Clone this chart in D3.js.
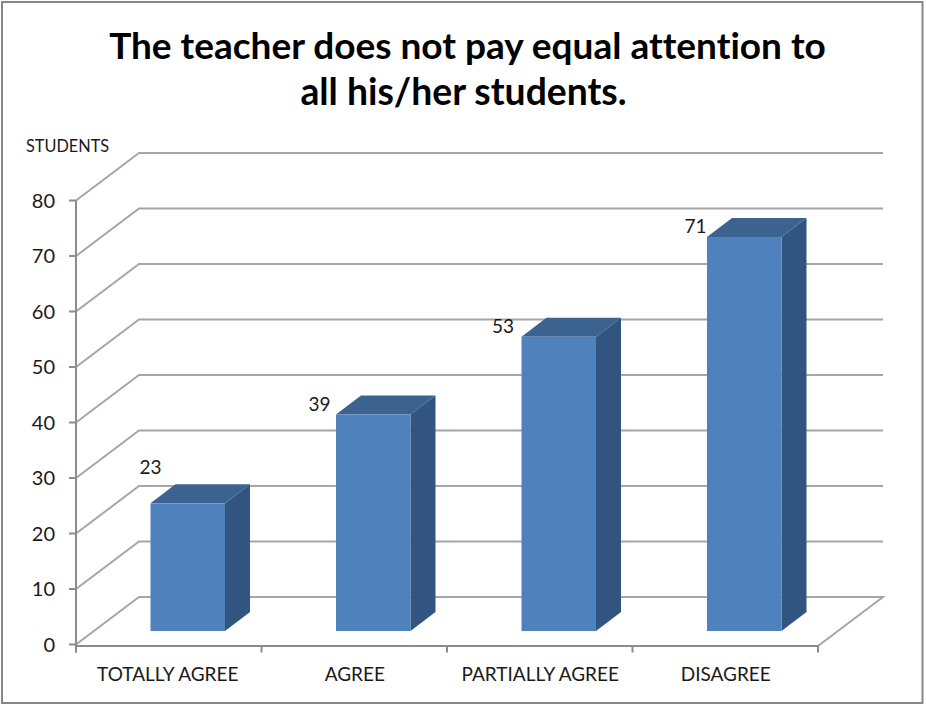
<!DOCTYPE html>
<html><head><meta charset="utf-8">
<script src="https://cdnjs.cloudflare.com/ajax/libs/d3/7.8.5/d3.min.js"></script>
<style>html,body{margin:0;padding:0;background:#fff}svg{display:block}text{font-family:Lato,"Open Sans",sans-serif;fill:#1a1a1a;font-variant-ligatures:none}</style>
</head><body><svg id="c" width="926" height="705"></svg>
<script>
const categories = ["TOTALLY AGREE","AGREE","PARTIALLY AGREE","DISAGREE"];
const values = [23,39,53,71];
const yTicks = [0,10,20,30,40,50,60,70,80];
const titleLines = ["The teacher does not pay equal attention to","all his/her students."];
const yAxisTitle = "STUDENTS";

const svg = d3.select("#c");
const x = d3.scaleBand().domain(categories).range([76,818]).paddingInner(0).paddingOuter(0);
const y = d3.scaleLinear().domain([0,80]).range([644.5,200.5]);
const depth = {dx:63, dy:-47.5};
const barFront = {dx:19, dy:-13.5}, barBack = {dx:44, dy:-32.5};
const barW = 74.5;
const grid = "#a6a6a6", axisCol = "#8c8c8c";

svg.append("rect").attr("x",2).attr("y",2).attr("width",920.5).attr("height",701)
  .attr("fill","#fff").attr("stroke","#868686").attr("stroke-width",2);

const title = svg.append("g");
titleLines.forEach((t,i)=>title.append("text").attr("x",i===0?467.5:463.5).attr("y",i===0?59:105)
  .attr("text-anchor","middle").attr("font-size",i===0?37:37.3).attr("font-weight",700).style("fill","#000").text(t));

const line = d3.line();
yTicks.forEach(v=>{
  const pts = v===0
    ? [[x.range()[0],y(0)],[x.range()[0]+depth.dx,y(0)+depth.dy],[x.range()[1]+depth.dx+2,y(0)+depth.dy],[x.range()[1],y(0)+1.5]]
    : [[x.range()[0],y(v)],[x.range()[0]+depth.dx,y(v)+depth.dy],[x.range()[1]+depth.dx+2,y(v)+depth.dy]];
  svg.append("path").attr("d",line(pts)).attr("fill","none").attr("stroke",grid).attr("stroke-width",2);
});

svg.append("path").attr("d",line([[x.range()[0],y(80)],[x.range()[0],y(0)+8]])).attr("stroke",axisCol).attr("stroke-width",2).attr("fill","none");
svg.append("path").attr("d",line([[x.range()[0],y(0)+1.5],[x.range()[1],y(0)+1.5]])).attr("stroke",axisCol).attr("stroke-width",2).attr("fill","none");
yTicks.forEach(v=>{
  svg.append("line").attr("x1",x.range()[0]-7).attr("x2",x.range()[0]).attr("y1",y(v)).attr("y2",y(v)).attr("stroke",axisCol).attr("stroke-width",2);
  svg.append("text").attr("x",55).attr("y",y(v)+7).attr("text-anchor","end").attr("font-size",20).text(v);
});
categories.concat(["end"]).forEach((c,i)=>{
  const px = x.range()[0]+i*x.step();
  svg.append("line").attr("x1",px).attr("x2",px).attr("y1",y(0)+1).attr("y2",y(0)+8).attr("stroke",axisCol).attr("stroke-width",2);
});
categories.forEach((c,i)=>{
  svg.append("text").attr("x",x(c)+x.bandwidth()/2+(i===0?-1:0.5)).attr("y",681).attr("text-anchor","middle").attr("font-size",19).text(c);
});
svg.append("text").attr("x",26).attr("y",152).attr("font-size",16.3).text(yAxisTitle);

const h = v=>y(0)-y(v);
categories.forEach((c,i)=>{
  const v = values[i];
  const x0 = x(c)+x.bandwidth()/2-barW/2+barFront.dx;
  const yb = y(0)+barFront.dy, yt = yb-h(v);
  const ddx = barBack.dx-barFront.dx, ddy = barBack.dy-barFront.dy;
  svg.append("path").attr("fill","#325480").attr("d",line([[x0+barW,yt],[x0+barW+ddx,yt+ddy],[x0+barW+ddx,yb+ddy],[x0+barW,yb]])+"Z");
  svg.append("path").attr("fill","#3c628f").attr("d",line([[x0,yt],[x0+ddx,yt+ddy],[x0+barW+ddx,yt+ddy],[x0+barW,yt]])+"Z");
  svg.append("rect").attr("x",x0).attr("y",yt).attr("width",barW).attr("height",yb-yt).attr("fill","#4f81bd");
  svg.append("text").attr("x",i===0?150.5:x0-(i===3?0.5:(i===2?7.5:5.5))).attr("y",i===0?yt-29:yt-4).attr("text-anchor",i===0?"middle":"end").attr("font-size",19).text(v);
});
</script></body></html>
